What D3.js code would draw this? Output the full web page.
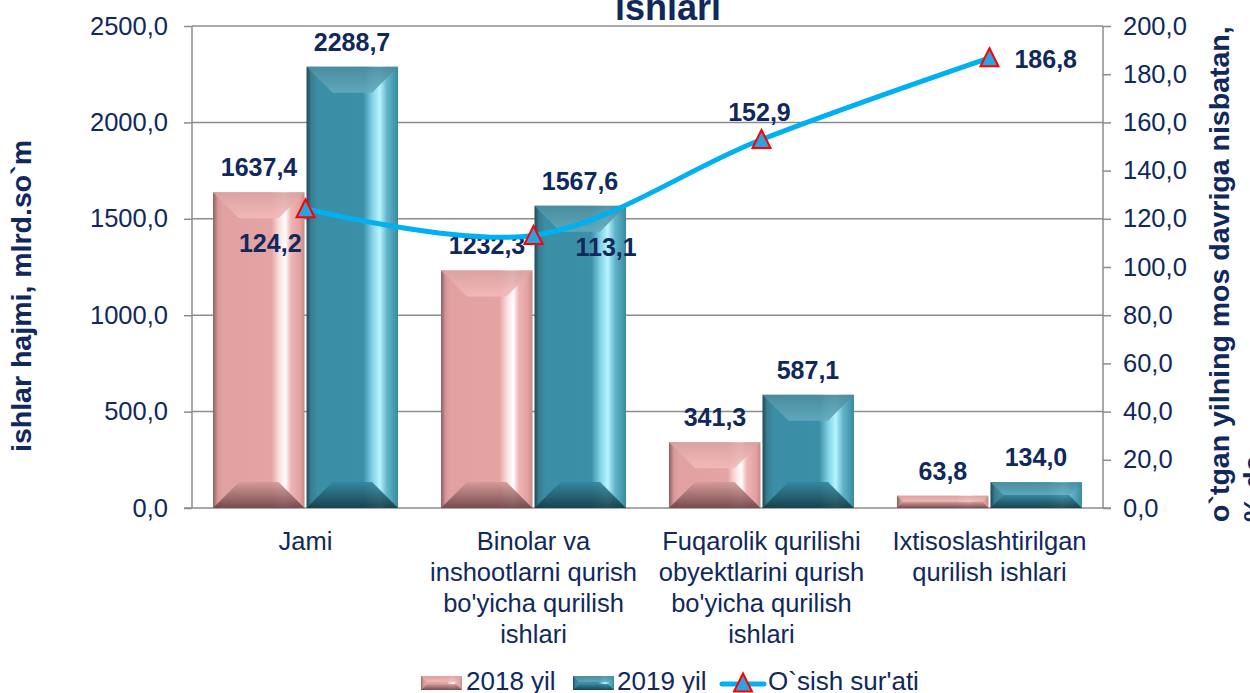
<!DOCTYPE html>
<html><head><meta charset="utf-8">
<script src="https://cdn.jsdelivr.net/npm/d3@7"></script>
<style>
body{margin:0;background:#fff;}
svg{display:block;font-family:"Liberation Sans",Arial,sans-serif;}
</style>
</head><body>
<svg id="c" width="1250" height="693"></svg>
<script>
// ---------- data ----------
const categories = ["Jami",
  "Binolar va\ninshootlarni qurish\nbo'yicha qurilish\nishlari",
  "Fuqarolik qurilishi\nobyektlarini qurish\nbo'yicha qurilish\nishlari",
  "Ixtisoslashtirilgan\nqurilish ishlari"];
const values2018 = [1637.4, 1232.3, 341.3, 63.8];
const values2019 = [2288.7, 1567.6, 587.1, 134.0];
const growth = [124.2, 113.1, 152.9, 186.8];
const leftTicks = [0, 500, 1000, 1500, 2000, 2500];
const rightTicks = [0, 20, 40, 60, 80, 100, 120, 140, 160, 180, 200];
const seriesNames = ["2018 yil", "2019 yil", "O`sish sur'ati"];
const titleText = "ishlari";
const leftTitle = "ishlar hajmi, mlrd.so`m";
const rightTitle = ["o`tgan yilning mos davriga nisbatan,", "% da"];

// ---------- layout ----------
const svg = d3.select("#c");
const navy = "#10285c";
const L = 192, R = 1103, T = 26, B = 508;
const fmt = d => d3.format(".1f")(d).replace(".", ",");

const x = d3.scaleBand().domain(categories).range([L, R]).paddingInner(0.184).paddingOuter(0.09);
const yL = d3.scaleLinear().domain([0, 2500]).range([B, T]);
const yR = d3.scaleLinear().domain([0, 200]).range([B, T]);
const cx = c => x(c) + x.bandwidth() / 2;

const defs = svg.append("defs");
function grad(id, stops, vertical) {
  const g = defs.append("linearGradient").attr("id", id)
    .attr("x1", 0).attr("y1", 0).attr("x2", vertical ? 0 : 1).attr("y2", vertical ? 1 : 0);
  stops.forEach(s => g.append("stop").attr("offset", s[0]).attr("stop-color", s[1]));
}
const palettes = {
  p: {
    main: [[0,"#8e5e5e"],[0.05,"#d39696"],[0.1,"#e2a1a1"],[0.64,"#e5a4a4"],[0.72,"#fbdcdc"],[0.79,"#ffffff"],[0.85,"#f0b4b4"],[0.95,"#e2a1a1"],[1,"#c48a8a"]],
    top: [[0,"#d9a2a2"],[1,"#f4baba"]],
    bot: [[0,"#d49999"],[1,"#6a4242"]]
  },
  t: {
    main: [[0,"#1c4a56"],[0.05,"#3a7d90"],[0.12,"#3a8ea6"],[0.62,"#3b8fa7"],[0.72,"#82d3e6"],[0.8,"#b6f5ff"],[0.88,"#60b4c9"],[1,"#3a8aa1"]],
    top: [[0,"#4b8c9e"],[1,"#62aabd"]],
    bot: [[0,"#3386a0"],[1,"#153a44"]]
  }
};
Object.entries(palettes).forEach(([k, p]) => {
  grad(k + "main", p.main, false);
  grad(k + "top", p.top, true);
  grad(k + "bot", p.bot, true);
});

function bevelBar(g, bx, by, w, h, k, bev) {
  const b = Math.min(bev, h / 2, w / 2);
  g.append("rect").attr("x", bx).attr("y", by).attr("width", w).attr("height", h)
    .attr("fill", `url(#${k}main)`);
  g.append("polygon").attr("points", [[bx,by],[bx+w,by],[bx+w-b,by+b],[bx+b,by+b]].join(" "))
    .attr("fill", `url(#${k}top)`).attr("opacity", 0.9);
  g.append("polygon").attr("points", [[bx,by+h],[bx+w,by+h],[bx+w-b,by+h-b],[bx+b,by+h-b]].join(" "))
    .attr("fill", `url(#${k}bot)`).attr("opacity", 0.9);
}

// ---------- grid ----------
svg.append("g").selectAll("line").data(leftTicks.filter(d => d > 0)).join("line")
  .attr("x1", L).attr("x2", R).attr("y1", d => yL(d)).attr("y2", d => yL(d))
  .attr("stroke", "#8c8c8c").attr("stroke-width", 1.5);

// ---------- axes ----------
const axL = svg.append("g").attr("transform", `translate(${L},0)`)
  .call(d3.axisLeft(yL).tickValues(leftTicks).tickFormat(fmt).tickSize(8).tickPadding(16));
const axR = svg.append("g").attr("transform", `translate(${R},0)`)
  .call(d3.axisRight(yR).tickValues(rightTicks).tickFormat(fmt).tickSize(8).tickPadding(12));
[axL, axR].forEach(a => {
  a.select(".domain").attr("stroke", "#8c8c8c").attr("stroke-width", 1.5).attr("d", `M0,${T}V${B}`);
  a.selectAll(".tick line").attr("stroke", "#8c8c8c").attr("stroke-width", 1.5);
  a.selectAll(".tick text").attr("fill", navy).attr("font-size", 25.5)
    .attr("font-family", "'Liberation Sans',Arial,sans-serif");
});
svg.append("line").attr("x1", L - 8).attr("x2", R + 8).attr("y1", B).attr("y2", B)
  .attr("stroke", "#8c8c8c").attr("stroke-width", 1.5);

// ---------- bars ----------
const half = x.bandwidth() / 2;
const barsG = svg.append("g");
categories.forEach((c, i) => {
  const x0 = x(c);
  const h1 = B - yL(values2018[i]);
  const h2 = B - yL(values2019[i]);
  bevelBar(barsG, x0 + 0.5, yL(values2018[i]), half - 1.5, h1, "p", 26);
  bevelBar(barsG, x0 + half + 1, yL(values2019[i]), half - 1.5, h2, "t", 26);
});

// bar labels
const lblG = svg.append("g").attr("font-weight", "bold").attr("font-size", 25).attr("fill", navy)
  .attr("text-anchor", "middle");
categories.forEach((c, i) => {
  lblG.append("text").attr("x", x(c) + half / 2).attr("y", yL(values2018[i]) - 16).text(fmt(values2018[i]));
  lblG.append("text").attr("x", x(c) + half * 1.5).attr("y", yL(values2019[i]) - 16).text(fmt(values2019[i]));
});

// ---------- line ----------
const lineGen = d3.line().x((d, i) => cx(categories[i])).y(d => yR(d)).curve(d3.curveCatmullRom.alpha(0.5));
svg.append("path").datum(growth).attr("d", lineGen).attr("fill", "none")
  .attr("stroke", "#00b0f0").attr("stroke-width", 5).attr("stroke-linecap", "round");
const tri = "M0,-9.5L9,8.5L-9,8.5Z";
svg.append("g").selectAll("path").data(growth).join("path")
  .attr("d", tri).attr("transform", (d, i) => `translate(${cx(categories[i])},${yR(d)})`)
  .attr("fill", "#2aa4de").attr("stroke", "#ff0000").attr("stroke-width", 2);

// growth labels (placement per point)
const growthLabelPlace = [[-4, 43, "end"], [42, 21, "start"], [-2, -19, "middle"], [25, 10, "start"]];
svg.append("g").attr("font-weight", "bold").attr("font-size", 25).attr("fill", navy)
  .selectAll("text").data(growth).join("text")
  .attr("x", (d, i) => cx(categories[i]) + growthLabelPlace[i][0])
  .attr("y", (d, i) => yR(d) + growthLabelPlace[i][1])
  .attr("text-anchor", (d, i) => growthLabelPlace[i][2])
  .text(d => fmt(d));

// ---------- category labels ----------
const catG = svg.append("g").attr("font-size", 25.5).attr("fill", navy).attr("text-anchor", "middle");
categories.forEach(c => {
  const t = catG.append("text").attr("x", cx(c)).attr("y", 550);
  c.split("\n").forEach((ln, j) => t.append("tspan").attr("x", cx(c)).attr("y", 550 + j * 31).text(ln));
});

// ---------- titles ----------
svg.append("text").attr("x", 668).attr("y", 20).attr("text-anchor", "middle")
  .attr("font-weight", "bold").attr("font-size", 36).attr("fill", navy).text(titleText);
svg.append("text").attr("transform", "translate(31,296) rotate(-90)").attr("text-anchor", "middle")
  .attr("font-weight", "bold").attr("font-size", 28.5).attr("fill", navy).text(leftTitle);
rightTitle.forEach((ln, j) => {
  svg.append("text").attr("transform", `translate(${1229 + j * 34},522) rotate(-90)`)
    .attr("text-anchor", "start").attr("font-weight", "bold").attr("font-size", 28.5)
    .attr("fill", navy).text(ln);
});

// ---------- legend ----------
const lg = svg.append("g");
bevelBar(lg, 421, 676, 41, 14, "p", 6);
lg.append("text").attr("x", 466).attr("y", 690).attr("font-size", 26).attr("fill", navy).text(seriesNames[0]);
bevelBar(lg, 573, 676, 41, 14, "t", 6);
lg.append("text").attr("x", 617).attr("y", 690).attr("font-size", 26).attr("fill", navy).text(seriesNames[1]);
lg.append("line").attr("x1", 722).attr("x2", 764).attr("y1", 684).attr("y2", 684)
  .attr("stroke", "#00b0f0").attr("stroke-width", 5).attr("stroke-linecap", "round");
lg.append("path").attr("d", tri).attr("transform", "translate(743,683)")
  .attr("fill", "#2aa4de").attr("stroke", "#ff0000").attr("stroke-width", 2);
lg.append("text").attr("x", 768).attr("y", 690).attr("font-size", 26).attr("fill", navy).text(seriesNames[2]);
</script>
</body></html>
